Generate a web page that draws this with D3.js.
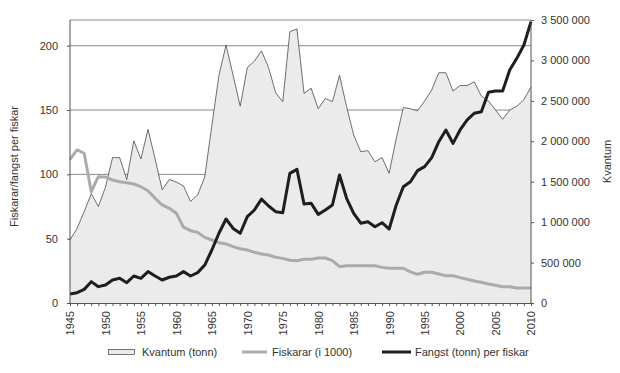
<!DOCTYPE html>
<html><head><meta charset="utf-8">
<script src="https://cdn.jsdelivr.net/npm/d3@7"></script>
<style>
body{margin:0;background:#fff;}
text{font-family:"Liberation Sans",Arial,sans-serif;fill:#333;}
</style></head>
<body><svg id="c" width="620" height="373"></svg>
<script>
const years = d3.range(1945, 2011);
const kvantum = [780000,923000,1130000,1352000,1193000,1432000,1798000,1798000,1527000,2005000,
1782000,2148000,1782000,1400000,1527000,1495000,1448000,1257000,1336000,1559000,
2195000,2816000,3190000,2816000,2434000,2911000,2991000,3118000,2911000,2601000,
2490000,3357000,3389000,2593000,2657000,2402000,2530000,2490000,2816000,2428000,
2078000,1871000,1884000,1747000,1798000,1604000,2036000,2418000,2402000,2378000,
2498000,2635000,2848000,2848000,2622000,2689000,2689000,2736000,2561000,2498000,
2386000,2272000,2386000,2434000,2514000,2673000];
const fiskarar = [111.7,119,116.4,86.5,98.2,98,95.6,94.3,93.5,92.5,
90.4,87.3,81.4,76.2,73.6,69.7,59,56.2,54.9,51,
49,46.9,45.9,43.8,42.2,41.2,39.4,38.1,37.3,35.5,
34.7,33.2,32.9,34,34,35,35,32.9,28.2,29,
29,29,29,29,27.7,27,27,27,24.2,22.3,
23.9,23.9,22.5,21.2,21.2,19.7,18.4,17.1,16.1,14.8,
13.8,12.7,12.7,11.7,11.7,11.7];
const fangstPerFiskar = [7,8,10.6,16.6,12.7,14,17.9,19.2,15.8,21,
19.2,24.4,21,17.9,20,21,24.4,21,23.6,29.5,
41.2,54.2,65.3,58,54.2,67.1,72.3,80.8,75.4,71,
70.2,100.8,103.9,77,77.5,68.9,72.3,76.2,99.5,81.4,
69.7,62,63.2,59.3,62.4,57.5,76.2,90.4,94.3,102.9,
106,113,125.4,134.5,124.1,134.5,142.3,147.5,148.7,163.8,
164.8,164.8,181.1,190.2,200.6,218.7];
const leftTicks = [0,50,100,150,200];
const rightTicks = [0,500000,1000000,1500000,2000000,2500000,3000000,3500000];
const xLabelYears = d3.range(1945, 2011, 5);

const svg = d3.select("#c");
const L = 70, R = 531, T = 20, B = 303;
const x = d3.scaleLinear().domain([1945, 2010]).range([L, R]);
const yL = d3.scaleLinear().domain([0, 220]).range([B, T]);
const yR = d3.scaleLinear().domain([0, 3500000]).range([B, T]);
const fmt = v => d3.format(",")(v).replace(/,/g, " ");

// gridlines
svg.append("g").selectAll("line").data(leftTicks.filter(d => d > 0)).join("line")
  .attr("x1", L).attr("x2", R).attr("y1", d => yL(d)).attr("y2", d => yL(d))
  .attr("stroke", "#8a8a8a").attr("stroke-width", 1);
svg.append("line").attr("x1", L).attr("x2", R).attr("y1", T).attr("y2", T)
  .attr("stroke", "#8a8a8a").attr("stroke-width", 1);

// area
const kData = years.map((y, i) => [y, kvantum[i]]);
svg.append("path").datum(kData)
  .attr("d", d3.area().x(d => x(d[0])).y0(B).y1(d => yR(d[1])))
  .attr("fill", "#ebebeb");
svg.append("path").datum(kData)
  .attr("d", d3.line().x(d => x(d[0])).y(d => yR(d[1])))
  .attr("fill", "none").attr("stroke", "#333").attr("stroke-width", 0.7);

// lines
svg.append("path").datum(years.map((y, i) => [y, fiskarar[i]]))
  .attr("d", d3.line().x(d => x(d[0])).y(d => yL(d[1])))
  .attr("fill", "none").attr("stroke", "#ababab").attr("stroke-width", 3).attr("stroke-linejoin", "round");
svg.append("path").datum(years.map((y, i) => [y, fangstPerFiskar[i]]))
  .attr("d", d3.line().x(d => x(d[0])).y(d => yL(d[1])))
  .attr("fill", "none").attr("stroke", "#1e1e1e").attr("stroke-width", 3).attr("stroke-linejoin", "round");

// axes
const axL = svg.append("g").attr("transform", `translate(${L},0)`)
  .call(d3.axisLeft(yL).tickValues(leftTicks).tickSize(3).tickPadding(9));
const axR = svg.append("g").attr("transform", `translate(${R},0)`)
  .call(d3.axisRight(yR).tickValues(rightTicks).tickSize(3).tickFormat(fmt).tickPadding(7));
const axB = svg.append("g").attr("transform", `translate(0,${B})`)
  .call(d3.axisBottom(x).tickValues(years).tickSize(3).tickFormat(d => xLabelYears.includes(d) ? d : ""));
[axL, axR, axB].forEach(g => {
  g.select(".domain").attr("stroke", "#555");
  g.selectAll(".tick line").attr("stroke", "#555");
  g.selectAll("text").attr("font-size", 11).attr("font-family", "Liberation Sans, Arial, sans-serif").attr("fill", "#333");
});
axL.select(".domain").attr("d", `M0,${B}V${T}`);
axR.select(".domain").attr("d", `M0,${B}V${T}`);
axB.selectAll("text").attr("transform", "rotate(-90)").attr("text-anchor", "end")
  .attr("x", -8).attr("y", 0).attr("dy", "0.35em");

// axis titles
svg.append("text").attr("transform", `translate(18,${(T + B) / 2 + 5}) rotate(-90)`)
  .attr("text-anchor", "middle").attr("font-size", 11).text("Fiskarar/fangst per fiskar");
svg.append("text").attr("transform", `translate(611,${(T + B) / 2}) rotate(-90)`)
  .attr("text-anchor", "middle").attr("font-size", 11).text("Kvantum");

// legend
const lg = svg.append("g").attr("font-size", 11);
lg.append("rect").attr("x", 108.5).attr("y", 349.5).attr("width", 26).attr("height", 5)
  .attr("fill", "#ebebeb").attr("stroke", "#555").attr("stroke-width", 0.8);
lg.append("text").attr("x", 142).attr("y", 356).attr("font-size", 11).text("Kvantum (tonn)");
lg.append("line").attr("x1", 242).attr("x2", 267).attr("y1", 352).attr("y2", 352)
  .attr("stroke", "#ababab").attr("stroke-width", 3);
lg.append("text").attr("x", 272).attr("y", 356).attr("font-size", 11).text("Fiskarar (i 1000)");
lg.append("line").attr("x1", 382).attr("x2", 411).attr("y1", 352).attr("y2", 352)
  .attr("stroke", "#1e1e1e").attr("stroke-width", 3);
lg.append("text").attr("x", 415).attr("y", 356).attr("font-size", 11).text("Fangst (tonn) per fiskar");
</script></body></html>
